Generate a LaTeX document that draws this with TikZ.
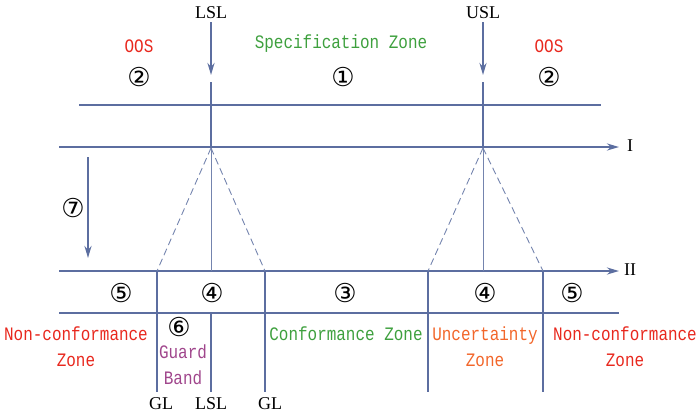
\documentclass[tikz,border=0pt]{standalone}
\usepackage{fontspec}
\setmainfont{Liberation Serif}
\newfontfamily\zonefont[FakeStretch=0.84]{Liberation Mono}
\newfontfamily\circfont{DejaVu Sans}
\usetikzlibrary{arrows.meta}
\definecolor{lineblue}{RGB}{92,110,160}
\definecolor{zred}{RGB}{232,40,30}
\definecolor{zgreen}{RGB}{62,160,62}
\definecolor{zorange}{RGB}{242,102,42}
\definecolor{zpurple}{RGB}{160,70,140}
\tikzset{
  mainline/.style={draw=lineblue,line width=2.5pt},
  thinline/.style={draw=lineblue!85,line width=0.8pt},
  dashline/.style={draw=lineblue!85,line width=0.9pt,dash pattern=on 7pt off 4pt},
  arr/.style={-{Stealth[length=12pt,width=7pt]}},
  zone/.style={font=\zonefont\fontsize{19}{26}\selectfont,align=center,inner sep=0pt},
  circ/.style={font=\circfont\fontsize{26}{26}\selectfont,inner sep=0pt},
  lbl/.style={font=\fontsize{18}{18}\selectfont,inner sep=0pt},
}
\begin{document}
\begin{tikzpicture}[x=1pt,y=-1pt]
\useasboundingbox (0,0) rectangle (700,413);
% coordinates
\coordinate (lslA) at (211,22);
\coordinate (lslB) at (211,75);
\coordinate (uslA) at (483,22);
\coordinate (uslB) at (483,75);
\coordinate (lslC) at (211,82);
\coordinate (lslD) at (211,148);
\coordinate (uslC) at (483,82);
\coordinate (uslD) at (483,148);
\coordinate (topL) at (79,105);
\coordinate (topR) at (601,105);
\coordinate (IL) at (59,147);
\coordinate (IR) at (619,147);
\coordinate (IIL) at (59,271);
\coordinate (IIR) at (619,271);
\coordinate (botL) at (59,313);
\coordinate (botR) at (619,313);
\coordinate (sA) at (88,157);
\coordinate (sB) at (88,258);
% labels
\node[lbl] (tLSL) at (211,13) {LSL};
\node[lbl] (tUSL) at (483,13) {USL};
\node[zone,text=zred] (oos1) at (139,46) {OOS};
\node[zone,text=zred] (oos2) at (549,46) {OOS};
\node[zone,text=zgreen] (spec) at (341,44) {Specification Zone};
\node[circ] (c2a) at (139,77) {②};
\node[circ] (c1) at (343,77) {①};
\node[circ] (c2b) at (549,77) {②};
\node[lbl] (tI) at (630,146) {I};
\node[lbl] (tII) at (630,270) {II};
\node[circ] (c7) at (73,208) {⑦};
% main lines
\draw[mainline,arr] (lslA) -- (lslB);
\draw[mainline,arr] (uslA) -- (uslB);
\draw[mainline] (lslC) -- (lslD);
\draw[mainline] (uslC) -- (uslD);
\draw[mainline] (topL) -- (topR);
\draw[mainline,arr] (IL) -- (IR);
\draw[mainline,arr] (IIL) -- (IIR);
\draw[mainline] (botL) -- (botR);
\draw[mainline,arr] (sA) -- (sB);
% cones
\coordinate (g1) at (157,271);
\coordinate (m1) at (211,271);
\coordinate (g2) at (265,271);
\coordinate (g3) at (428,271);
\coordinate (m2) at (483,271);
\coordinate (g4) at (543,271);
\draw[dashline] (lslD) -- (g1);
\draw[dashline] (lslD) -- (g2);
\draw[thinline] (lslD) -- (m1);
\draw[dashline] (uslD) -- (g3);
\draw[dashline] (uslD) -- (g4);
\draw[thinline] (uslD) -- (m2);
% bottom verticals
\coordinate (g1b) at (157,392);
\coordinate (g2b) at (265,392);
\coordinate (g3b) at (428,392);
\coordinate (g4b) at (543,392);
\coordinate (lslE) at (211,313);
\coordinate (lslF) at (211,392);
\draw[mainline] (g1) -- (g1b);
\draw[mainline] (g2) -- (g2b);
\draw[mainline] (g3) -- (g3b);
\draw[mainline] (g4) -- (g4b);
\draw[mainline] (lslE) -- (lslF);
% circled numbers row
\node[circ] (c5a) at (121,293) {⑤};
\node[circ] (c4a) at (212,293) {④};
\node[circ] (c3) at (345,293) {③};
\node[circ] (c4b) at (485,293) {④};
\node[circ] (c5b) at (572,293) {⑤};
\node[circ] (c6) at (179,327) {⑥};
% zone texts
\node[zone,text=zred] (nc1) at (76,347) {Non-conformance\\Zone};
\node[zone,text=zpurple] (gb) at (183,365) {Guard\\Band};
\node[zone,text=zgreen] (cz) at (346,334) {Conformance Zone};
\node[zone,text=zorange] (uz) at (485,347) {Uncertainty\\Zone};
\node[zone,text=zred] (nc2) at (625,347) {Non-conformance\\Zone};
% bottom labels
\node[lbl] (bGL1) at (161,404) {GL};
\node[lbl] (bLSL) at (211,404) {LSL};
\node[lbl] (bGL2) at (270,404) {GL};
\end{tikzpicture}
\end{document}
